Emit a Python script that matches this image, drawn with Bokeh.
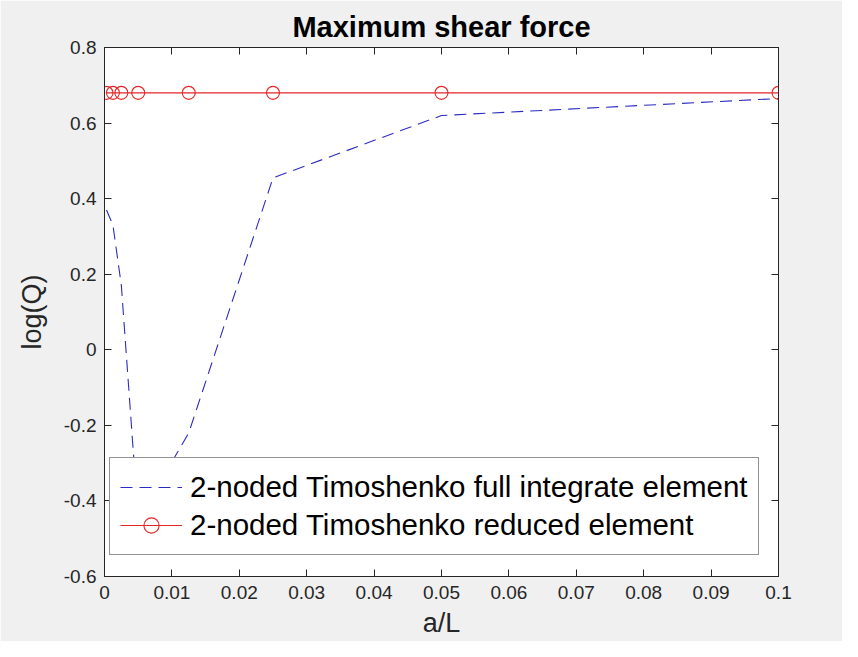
from bokeh.plotting import figure
from bokeh.models import LinearAxis, Range1d, Legend, LegendItem, FixedTicker
from bokeh.embed import file_html
from bokeh.resources import INLINE

# ---- data ----
a_over_L = [0.0003, 0.00125, 0.0025, 0.005, 0.0125, 0.025, 0.05, 0.1]
logQ_full = [0.37, 0.33, 0.17, -0.45, -0.22, 0.455, 0.62, 0.665]
logQ_reduced = [0.68, 0.68, 0.68, 0.68, 0.68, 0.68, 0.68, 0.68]

x_ticks = [0, 0.01, 0.02, 0.03, 0.04, 0.05, 0.06, 0.07, 0.08, 0.09, 0.1]
x_tick_labels = ["0", "0.01", "0.02", "0.03", "0.04", "0.05", "0.06", "0.07", "0.08", "0.09", "0.1"]
y_ticks = [-0.6, -0.4, -0.2, 0, 0.2, 0.4, 0.6, 0.8]
y_tick_labels = ["-0.6", "-0.4", "-0.2", "0", "0.2", "0.4", "0.6", "0.8"]

title_text = "Maximum shear force"
x_label = "a/L"
y_label = "log(Q)"
name_full = "2-noded Timoshenko full integrate element"
name_reduced = "2-noded Timoshenko reduced element"

FONT = "Liberation Sans"
AXC = "#262626"
BLUE = "#2b2bc0"
RED = "#e32626"

p = figure(width=842, height=641, output_backend="svg", toolbar_location=None,
           x_range=Range1d(0, 0.1), y_range=Range1d(-0.6, 0.8),
           min_border_left=104, min_border_right=64, min_border_top=47, min_border_bottom=65,
           background_fill_color="white", border_fill_color="#f0f0f0")

p.xgrid.visible = False
p.ygrid.visible = False
p.outline_line_color = AXC
p.outline_line_width = 1

def style_axis(ax, ticks, labels, show_labels=True):
    ax.ticker = FixedTicker(ticks=ticks)
    ax.major_tick_in = 7
    ax.major_tick_out = 0
    ax.minor_tick_line_color = None
    ax.axis_line_color = AXC
    ax.major_tick_line_color = AXC
    ax.major_label_text_font = FONT
    ax.major_label_text_color = AXC
    if show_labels:
        ax.major_label_overrides = {t: l for t, l in zip(ticks, labels)}
        ax.major_label_text_font_size = "19px"
    else:
        ax.major_label_overrides = {t: "" for t in ticks}
        ax.major_label_text_font_size = "1px"
        ax.major_label_standoff = 0

style_axis(p.xaxis[0], x_ticks, x_tick_labels)
style_axis(p.yaxis[0], y_ticks, y_tick_labels)
p.xaxis[0].major_label_standoff = 9
p.yaxis[0].major_label_standoff = 8

for ax, txt in ((p.xaxis[0], x_label), (p.yaxis[0], y_label)):
    ax.axis_label = txt
    ax.axis_label_text_font = FONT
    ax.axis_label_text_font_size = "27px"
    ax.axis_label_text_font_style = "normal"
    ax.axis_label_text_color = AXC
p.xaxis[0].axis_label_standoff = 6
p.yaxis[0].axis_label_standoff = 14

top_axis = LinearAxis()
style_axis(top_axis, x_ticks, x_tick_labels, show_labels=False)
p.add_layout(top_axis, "above")
right_axis = LinearAxis()
style_axis(right_axis, y_ticks, y_tick_labels, show_labels=False)
p.add_layout(right_axis, "right")

p.title.text = title_text
p.title.text_font = FONT
p.title.text_font_size = "29px"
p.title.text_font_style = "bold"
p.title.text_color = "black"
p.title.align = "center"

r_full = p.line(a_over_L, logQ_full, line_color=BLUE, line_width=1.1, line_dash="12 7")
r_red_line = p.line(a_over_L, logQ_reduced, line_color=RED, line_width=1.1)
r_red_pts = p.scatter(a_over_L, logQ_reduced, marker="circle", size=13,
                      fill_color=None, line_color=RED, line_width=1.1)

legend = Legend(items=[LegendItem(label=name_full, renderers=[r_full]),
                       LegendItem(label=name_reduced, renderers=[r_red_line, r_red_pts])],
                location=(5, 21), margin=0, padding=10, spacing=0,
                glyph_width=62, glyph_height=38, label_height=38, label_standoff=8,
                label_text_font=FONT, label_text_font_size="29.5px", label_text_color="black",
                border_line_color=AXC, border_line_width=1,
                background_fill_color="white", background_fill_alpha=1.0)
p.add_layout(legend)

open("out.html", "w").write(file_html(p, INLINE))
